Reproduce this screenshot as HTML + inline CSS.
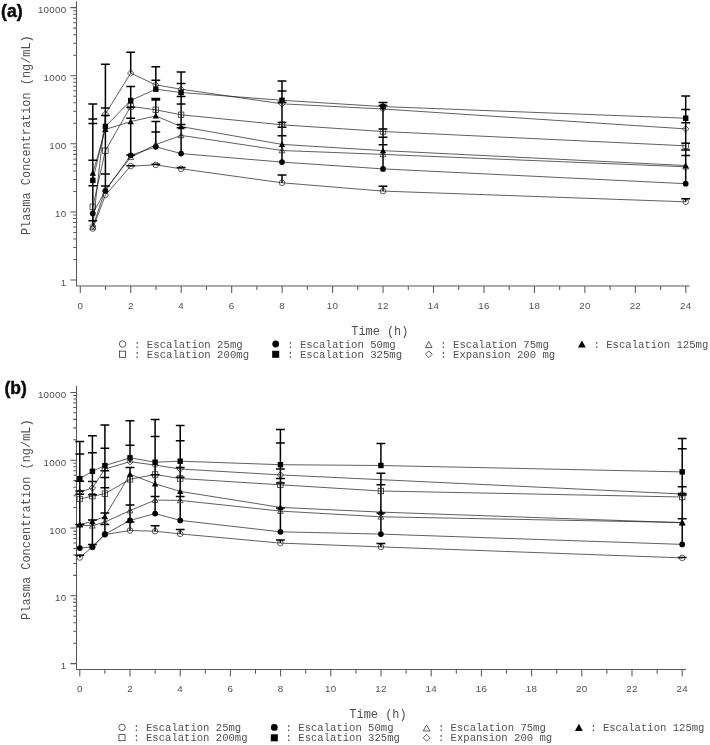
<!DOCTYPE html>
<html lang="en"><head><meta charset="utf-8"><title>Plasma concentration</title>
<style>html,body{margin:0;padding:0;background:#fff}svg{display:block}</style></head><body>
<svg width="710" height="745" viewBox="0 0 710 745">
<rect width="710" height="745" fill="#fff"/>
<g stroke="#585858" stroke-width="1.05" fill="none">
<path d="M76.5 1.2V285.9H689.7"/>
<path d="M70.3 280H76.5M73.3 259.5H76.5M73.3 247.51H76.5M73.3 239H76.5M73.3 232.4H76.5M73.3 227.01H76.5M73.3 222.45H76.5M73.3 218.5H76.5M73.3 215.02H76.5M70.3 211.9H76.5M73.3 191.4H76.5M73.3 179.41H76.5M73.3 170.9H76.5M73.3 164.3H76.5M73.3 158.91H76.5M73.3 154.35H76.5M73.3 150.4H76.5M73.3 146.92H76.5M70.3 143.8H76.5M73.3 123.3H76.5M73.3 111.31H76.5M73.3 102.8H76.5M73.3 96.2H76.5M73.3 90.81H76.5M73.3 86.25H76.5M73.3 82.3H76.5M73.3 78.82H76.5M70.3 75.7H76.5M73.3 55.2H76.5M73.3 43.21H76.5M73.3 34.7H76.5M73.3 28.1H76.5M73.3 22.71H76.5M73.3 18.15H76.5M73.3 14.2H76.5M73.3 10.72H76.5M70.3 7.6H76.5M80.3 285.9V293M105.53 285.9V290.1M130.76 285.9V293M155.99 285.9V290.1M181.22 285.9V293M206.45 285.9V290.1M231.68 285.9V293M256.91 285.9V290.1M282.14 285.9V293M307.37 285.9V290.1M332.6 285.9V293M357.83 285.9V290.1M383.06 285.9V293M408.29 285.9V290.1M433.52 285.9V293M458.75 285.9V290.1M483.98 285.9V293M509.21 285.9V290.1M534.44 285.9V293M559.67 285.9V290.1M584.9 285.9V293M610.13 285.9V290.1M635.36 285.9V293M660.59 285.9V290.1M685.82 285.9V293"/>
</g>
<g font-family='"Liberation Sans", "DejaVu Sans", sans-serif' font-size="9.75" letter-spacing="0.3" fill="#505050">
<text x="66.5" y="285.5" text-anchor="end">1</text>
<text x="66.5" y="217.4" text-anchor="end">10</text>
<text x="66.5" y="149.3" text-anchor="end">100</text>
<text x="66.5" y="81.2" text-anchor="end">1000</text>
<text x="66.5" y="13.1" text-anchor="end">10000</text>
<text x="80.3" y="308.7" text-anchor="middle">0</text>
<text x="130.76" y="308.7" text-anchor="middle">2</text>
<text x="181.22" y="308.7" text-anchor="middle">4</text>
<text x="231.68" y="308.7" text-anchor="middle">6</text>
<text x="282.14" y="308.7" text-anchor="middle">8</text>
<text x="332.6" y="308.7" text-anchor="middle">10</text>
<text x="383.06" y="308.7" text-anchor="middle">12</text>
<text x="433.52" y="308.7" text-anchor="middle">14</text>
<text x="483.98" y="308.7" text-anchor="middle">16</text>
<text x="534.44" y="308.7" text-anchor="middle">18</text>
<text x="584.9" y="308.7" text-anchor="middle">20</text>
<text x="635.36" y="308.7" text-anchor="middle">22</text>
<text x="685.82" y="308.7" text-anchor="middle">24</text>
</g>
<text font-family='"Liberation Mono", "DejaVu Sans Mono", monospace' font-size="11.9" fill="#505050" transform="translate(30.3 135.2) rotate(-90)" text-anchor="middle">Plasma Concentration (ng/mL)</text>
<text font-family='"Liberation Mono", "DejaVu Sans Mono", monospace' font-size="11.9" fill="#505050" x="379.8" y="335.2" text-anchor="middle">Time (h)</text>
<text font-family='"Liberation Sans", "DejaVu Sans", sans-serif' font-weight="bold" font-size="18.5" fill="#0a0a0a" stroke="#0a0a0a" stroke-width="0.45" x="1" y="17.3" textLength="21.6" lengthAdjust="spacingAndGlyphs">(a)</text>
<g stroke="#1a1a1a" stroke-width="0.7" fill="none" stroke-linejoin="round">
<polyline points="92.8,228.5 105.4,195 130.7,166.1 155.8,164.9 181.1,168.8 282,182.8 383,191.1 685.7,201.8"/>
<polyline points="92.8,213.4 105.4,190.8 130.7,155.3 155.8,146.8 181.1,153.6 282,162.1 383,168.9 685.7,183.7"/>
<polyline points="92.8,227 105.4,189.5 130.7,157.3 155.8,144.6 181.1,135.4 282,150.5 383,154.4 685.7,166.8"/>
<polyline points="92.8,173 105.4,129.4 130.7,121.6 155.8,115.9 181.1,126.6 282,144.4 383,150.6 685.7,165.5"/>
<polyline points="92.8,206.8 105.4,150.6 130.7,106.4 155.8,109.8 181.1,114.8 282,124.8 383,131.5 685.7,145.8"/>
<polyline points="92.8,180.4 105.4,126.5 130.7,100.5 155.8,89.2 181.1,92.5 282,100.3 383,106.6 685.7,118.2"/>
<polyline points="92.8,226 105.4,114 130.7,73.1 155.8,84.9 181.1,89.2 282,103.8 383,109 685.7,128.9"/>
</g>
<path d="M92.8 103.9V226M105.4 64.3V191M130.7 52.3V73.1M130.7 86.6V155.3M155.8 66.8V89.2M155.8 98.4V115.9M155.8 121.6V146.8M181.1 71.9V153.6M181.1 167.5V168.8M282 81V162.1M282 175V182.8M383 102.6V168.9M383 186.3V191.1M685.7 96V183.7M685.7 198.8V201.8M88.4 103.9H97.2M88.4 119H97.2M88.4 123.5H97.2M88.4 160.2H97.2M88.4 185.7H97.2M88.4 220.7H97.2M101 64.3H109.8M101 108.1H109.8M101 115.5H109.8M101 174H109.8M101 186H109.8M126.3 52.3H135.1M126.3 86.6H135.1M126.3 107.2H135.1M126.3 118.2H135.1M126.3 155H135.1M126.3 165.8H135.1M151.4 66.8H160.2M151.4 80.2H160.2M151.4 98.4H160.2M151.4 100.1H160.2M151.4 121.6H160.2M151.4 132H160.2M151.4 164.2H160.2M176.7 71.9H185.5M176.7 83.6H185.5M176.7 96.4H185.5M176.7 103.9H185.5M176.7 124.4H185.5M176.7 127.7H185.5M176.7 167.5H185.5M277.6 81H286.4M277.6 90.9H286.4M277.6 102.2H286.4M277.6 122.4H286.4M277.6 127.2H286.4M277.6 135.7H286.4M277.6 175H286.4M378.6 102.6H387.4M378.6 105.5H387.4M378.6 129.1H387.4M378.6 137.2H387.4M378.6 144.8H387.4M378.6 186.3H387.4M681.3 96H690.1M681.3 109.5H690.1M681.3 122.8H690.1M681.3 143.3H690.1M681.3 149.9H690.1M681.3 155.5H690.1M681.3 198.8H690.1" stroke="#000" stroke-width="1.5" fill="none"/>
<circle cx="92.8" cy="228.5" r="2.8" fill="#fff" fill-opacity="0" stroke="#1a1a1a" stroke-width="0.7"/>
<circle cx="105.4" cy="195" r="2.8" fill="#fff" fill-opacity="0" stroke="#1a1a1a" stroke-width="0.7"/>
<circle cx="130.7" cy="166.1" r="2.8" fill="#fff" fill-opacity="0" stroke="#1a1a1a" stroke-width="0.7"/>
<circle cx="155.8" cy="164.9" r="2.8" fill="#fff" fill-opacity="0" stroke="#1a1a1a" stroke-width="0.7"/>
<circle cx="181.1" cy="168.8" r="2.8" fill="#fff" fill-opacity="0" stroke="#1a1a1a" stroke-width="0.7"/>
<circle cx="282" cy="182.8" r="2.8" fill="#fff" fill-opacity="0" stroke="#1a1a1a" stroke-width="0.7"/>
<circle cx="383" cy="191.1" r="2.8" fill="#fff" fill-opacity="0" stroke="#1a1a1a" stroke-width="0.7"/>
<circle cx="685.7" cy="201.8" r="2.8" fill="#fff" fill-opacity="0" stroke="#1a1a1a" stroke-width="0.7"/>
<circle cx="92.8" cy="213.4" r="2.85" fill="#000"/>
<circle cx="105.4" cy="190.8" r="2.85" fill="#000"/>
<circle cx="130.7" cy="155.3" r="2.85" fill="#000"/>
<circle cx="155.8" cy="146.8" r="2.85" fill="#000"/>
<circle cx="181.1" cy="153.6" r="2.85" fill="#000"/>
<circle cx="282" cy="162.1" r="2.85" fill="#000"/>
<circle cx="383" cy="168.9" r="2.85" fill="#000"/>
<circle cx="685.7" cy="183.7" r="2.85" fill="#000"/>
<path d="M92.8 224.1L95.7 229.32L89.9 229.32Z" fill="none" stroke="#1a1a1a" stroke-width="0.7"/>
<path d="M105.4 186.6L108.3 191.82L102.5 191.82Z" fill="none" stroke="#1a1a1a" stroke-width="0.7"/>
<path d="M130.7 154.4L133.6 159.62L127.8 159.62Z" fill="none" stroke="#1a1a1a" stroke-width="0.7"/>
<path d="M155.8 141.7L158.7 146.92L152.9 146.92Z" fill="none" stroke="#1a1a1a" stroke-width="0.7"/>
<path d="M181.1 132.5L184 137.72L178.2 137.72Z" fill="none" stroke="#1a1a1a" stroke-width="0.7"/>
<path d="M282 147.6L284.9 152.82L279.1 152.82Z" fill="none" stroke="#1a1a1a" stroke-width="0.7"/>
<path d="M383 151.5L385.9 156.72L380.1 156.72Z" fill="none" stroke="#1a1a1a" stroke-width="0.7"/>
<path d="M685.7 163.9L688.6 169.12L682.8 169.12Z" fill="none" stroke="#1a1a1a" stroke-width="0.7"/>
<path d="M92.8 169.8L96 175.72L89.6 175.72Z" fill="#000"/>
<path d="M105.4 126.2L108.6 132.12L102.2 132.12Z" fill="#000"/>
<path d="M130.7 118.4L133.9 124.32L127.5 124.32Z" fill="#000"/>
<path d="M155.8 112.7L159 118.62L152.6 118.62Z" fill="#000"/>
<path d="M181.1 123.4L184.3 129.32L177.9 129.32Z" fill="#000"/>
<path d="M282 141.2L285.2 147.12L278.8 147.12Z" fill="#000"/>
<path d="M383 147.4L386.2 153.32L379.8 153.32Z" fill="#000"/>
<path d="M685.7 162.3L688.9 168.22L682.5 168.22Z" fill="#000"/>
<rect x="90.05" y="204.05" width="5.5" height="5.5" fill="none" stroke="#1a1a1a" stroke-width="0.7"/>
<rect x="102.65" y="147.85" width="5.5" height="5.5" fill="none" stroke="#1a1a1a" stroke-width="0.7"/>
<rect x="127.95" y="103.65" width="5.5" height="5.5" fill="none" stroke="#1a1a1a" stroke-width="0.7"/>
<rect x="153.05" y="107.05" width="5.5" height="5.5" fill="none" stroke="#1a1a1a" stroke-width="0.7"/>
<rect x="178.35" y="112.05" width="5.5" height="5.5" fill="none" stroke="#1a1a1a" stroke-width="0.7"/>
<rect x="279.25" y="122.05" width="5.5" height="5.5" fill="none" stroke="#1a1a1a" stroke-width="0.7"/>
<rect x="380.25" y="128.75" width="5.5" height="5.5" fill="none" stroke="#1a1a1a" stroke-width="0.7"/>
<rect x="682.95" y="143.05" width="5.5" height="5.5" fill="none" stroke="#1a1a1a" stroke-width="0.7"/>
<rect x="90.1" y="177.7" width="5.4" height="5.4" fill="#000"/>
<rect x="102.7" y="123.8" width="5.4" height="5.4" fill="#000"/>
<rect x="128" y="97.8" width="5.4" height="5.4" fill="#000"/>
<rect x="153.1" y="86.5" width="5.4" height="5.4" fill="#000"/>
<rect x="178.4" y="89.8" width="5.4" height="5.4" fill="#000"/>
<rect x="279.3" y="97.6" width="5.4" height="5.4" fill="#000"/>
<rect x="380.3" y="103.9" width="5.4" height="5.4" fill="#000"/>
<rect x="683" y="115.5" width="5.4" height="5.4" fill="#000"/>
<path d="M92.8 222.8L96 226L92.8 229.2L89.6 226Z" fill="none" stroke="#1a1a1a" stroke-width="0.7"/>
<path d="M105.4 110.8L108.6 114L105.4 117.2L102.2 114Z" fill="none" stroke="#1a1a1a" stroke-width="0.7"/>
<path d="M130.7 69.9L133.9 73.1L130.7 76.3L127.5 73.1Z" fill="none" stroke="#1a1a1a" stroke-width="0.7"/>
<path d="M155.8 81.7L159 84.9L155.8 88.1L152.6 84.9Z" fill="none" stroke="#1a1a1a" stroke-width="0.7"/>
<path d="M181.1 86L184.3 89.2L181.1 92.4L177.9 89.2Z" fill="none" stroke="#1a1a1a" stroke-width="0.7"/>
<path d="M282 100.6L285.2 103.8L282 107L278.8 103.8Z" fill="none" stroke="#1a1a1a" stroke-width="0.7"/>
<path d="M383 105.8L386.2 109L383 112.2L379.8 109Z" fill="none" stroke="#1a1a1a" stroke-width="0.7"/>
<path d="M685.7 125.7L688.9 128.9L685.7 132.1L682.5 128.9Z" fill="none" stroke="#1a1a1a" stroke-width="0.7"/>
<g font-family='"Liberation Mono", "DejaVu Sans Mono", monospace' font-size="10.65" fill="#505050">
<circle cx="122.6" cy="344" r="3.25" fill="#fff" fill-opacity="0" stroke="#1a1a1a" stroke-width="0.7"/>
<text x="134.1" y="347.8">: Escalation 25mg</text>
<circle cx="275.7" cy="344" r="3.39" fill="#000"/>
<text x="287.2" y="347.8">: Escalation 50mg</text>
<path d="M428.8 341.59L432.11 347.54L425.49 347.54Z" fill="none" stroke="#1a1a1a" stroke-width="0.7"/>
<text x="440.3" y="347.8">: Escalation 75mg</text>
<path d="M581.9 340.4L585.8 347.62L578 347.62Z" fill="#000"/>
<text x="593.4" y="347.8">: Escalation 125mg</text>
<rect x="119.55" y="351.15" width="6.11" height="6.11" fill="none" stroke="#1a1a1a" stroke-width="0.7"/>
<text x="134.1" y="357.8">: Escalation 200mg</text>
<rect x="272.19" y="350.79" width="7.02" height="7.02" fill="#000"/>
<text x="287.2" y="357.8">: Escalation 325mg</text>
<path d="M428.8 350.91L432.19 354.3L428.8 357.69L425.41 354.3Z" fill="none" stroke="#1a1a1a" stroke-width="0.7"/>
<text x="440.3" y="357.8">: Expansion 200 mg</text>
</g>
<g stroke="#585858" stroke-width="1.05" fill="none">
<path d="M76.5 386.1V669.5H686"/>
<path d="M70.3 663.6H76.5M73.3 643.19H76.5M73.3 631.25H76.5M73.3 622.78H76.5M73.3 616.21H76.5M73.3 610.84H76.5M73.3 606.3H76.5M73.3 602.37H76.5M73.3 598.9H76.5M70.3 595.8H76.5M73.3 575.39H76.5M73.3 563.45H76.5M73.3 554.98H76.5M73.3 548.41H76.5M73.3 543.04H76.5M73.3 538.5H76.5M73.3 534.57H76.5M73.3 531.1H76.5M70.3 528H76.5M73.3 507.59H76.5M73.3 495.65H76.5M73.3 487.18H76.5M73.3 480.61H76.5M73.3 475.24H76.5M73.3 470.7H76.5M73.3 466.77H76.5M73.3 463.3H76.5M70.3 460.2H76.5M73.3 439.79H76.5M73.3 427.85H76.5M73.3 419.38H76.5M73.3 412.81H76.5M73.3 407.44H76.5M73.3 402.9H76.5M73.3 398.97H76.5M73.3 395.5H76.5M70.3 392.4H76.5M79.8 669.5V676.6M104.9 669.5V673.7M130 669.5V676.6M155.1 669.5V673.7M180.2 669.5V676.6M205.3 669.5V673.7M230.4 669.5V676.6M255.5 669.5V673.7M280.6 669.5V676.6M305.7 669.5V673.7M330.8 669.5V676.6M355.9 669.5V673.7M381 669.5V676.6M406.1 669.5V673.7M431.2 669.5V676.6M456.3 669.5V673.7M481.4 669.5V676.6M506.5 669.5V673.7M531.6 669.5V676.6M556.7 669.5V673.7M581.8 669.5V676.6M606.9 669.5V673.7M632 669.5V676.6M657.1 669.5V673.7M682.2 669.5V676.6"/>
</g>
<g font-family='"Liberation Sans", "DejaVu Sans", sans-serif' font-size="9.75" letter-spacing="0.3" fill="#505050">
<text x="66.5" y="669.1" text-anchor="end">1</text>
<text x="66.5" y="601.3" text-anchor="end">10</text>
<text x="66.5" y="533.5" text-anchor="end">100</text>
<text x="66.5" y="465.7" text-anchor="end">1000</text>
<text x="66.5" y="397.9" text-anchor="end">10000</text>
<text x="79.8" y="692.4" text-anchor="middle">0</text>
<text x="130" y="692.4" text-anchor="middle">2</text>
<text x="180.2" y="692.4" text-anchor="middle">4</text>
<text x="230.4" y="692.4" text-anchor="middle">6</text>
<text x="280.6" y="692.4" text-anchor="middle">8</text>
<text x="330.8" y="692.4" text-anchor="middle">10</text>
<text x="381" y="692.4" text-anchor="middle">12</text>
<text x="431.2" y="692.4" text-anchor="middle">14</text>
<text x="481.4" y="692.4" text-anchor="middle">16</text>
<text x="531.6" y="692.4" text-anchor="middle">18</text>
<text x="581.8" y="692.4" text-anchor="middle">20</text>
<text x="632" y="692.4" text-anchor="middle">22</text>
<text x="682.2" y="692.4" text-anchor="middle">24</text>
</g>
<text font-family='"Liberation Mono", "DejaVu Sans Mono", monospace' font-size="11.95" fill="#505050" transform="translate(30.3 519.6) rotate(-90)" text-anchor="middle">Plasma Concentration (ng/mL)</text>
<text font-family='"Liberation Mono", "DejaVu Sans Mono", monospace' font-size="11.95" fill="#505050" x="378" y="717.7" text-anchor="middle">Time (h)</text>
<text font-family='"Liberation Sans", "DejaVu Sans", sans-serif' font-weight="bold" font-size="18.5" fill="#0a0a0a" stroke="#0a0a0a" stroke-width="0.45" x="4.5" y="394.3" textLength="22.4" lengthAdjust="spacingAndGlyphs">(b)</text>
<g stroke="#1a1a1a" stroke-width="0.7" fill="none" stroke-linejoin="round">
<polyline points="79.8,557.5 92.4,547 104.9,534.5 130,530.5 155.1,531.2 180.2,533.9 280.4,543.1 380.9,546.9 682.2,557.9"/>
<polyline points="79.8,548.1 92.4,546.9 104.9,534.2 130,520.4 155.1,513.6 180.2,520.4 280.4,531.8 380.9,534.1 682.2,544.4"/>
<polyline points="79.8,525 92.4,525.8 104.9,522 130,510.6 155.1,500.1 180.2,500.4 280.4,511.1 380.9,516.8 682.2,522.5"/>
<polyline points="79.8,524.4 92.4,521.5 104.9,516.5 130,474.3 155.1,483.8 180.2,491.4 280.4,507.4 380.9,512.1 682.2,522.7"/>
<polyline points="79.8,499 92.4,496.1 104.9,493.7 130,479.3 155.1,474.5 180.2,478.5 280.4,484.8 380.9,491 682.2,497"/>
<polyline points="79.8,478.6 92.4,471.3 104.9,465.6 130,457.8 155.1,462.2 180.2,461.2 280.4,464.7 380.9,465.5 682.2,471.9"/>
<polyline points="79.8,492 92.4,488 104.9,469 130,461.7 155.1,465.1 180.2,469 280.4,474.9 682.2,494"/>
</g>
<path d="M79.8 441.4V548.1M79.8 555.3V557.5M92.4 435.8V546.9M104.9 425V534.2M130 420.8V462.5M130 467.6V530.5M155.1 419.8V513.6M155.1 525.8V531.2M180.2 425.4V520.4M180.2 529.5V533.9M280.4 429.4V531.8M280.4 539.9V543.1M380.9 443.5V465.5M380.9 473.2V534.1M380.9 543.5V546.9M682.2 438.5V544.4M75.4 441.4H84.2M75.4 454.1H84.2M75.4 481.3H84.2M75.4 491H84.2M75.4 494.2H84.2M75.4 524.4H84.2M75.4 555.3H84.2M88 435.8H96.8M88 452.7H96.8M88 481.5H96.8M88 494.8H96.8M88 519.9H96.8M88 544.4H96.8M100.5 425H109.3M100.5 448.2H109.3M100.5 470.8H109.3M100.5 477.5H109.3M100.5 487.8H109.3M100.5 513.1H109.3M100.5 524.4H109.3M125.6 420.8H134.4M125.6 445.3H134.4M125.6 467.6H134.4M125.6 505H134.4M125.6 522.1H134.4M150.7 419.4H159.5M150.7 436.4H159.5M150.7 474.7H159.5M150.7 496.4H159.5M150.7 525.7H159.5M175.8 425.4H184.6M175.8 440.8H184.6M175.8 467.6H184.6M175.8 477.2H184.6M175.8 496.5H184.6M175.8 529.5H184.6M276 429.4H284.8M276 443.1H284.8M276 468.9H284.8M276 478.6H284.8M276 483H284.8M276 508H284.8M276 539.9H284.8M376.5 443.5H385.3M376.5 473.2H385.3M376.5 484.8H385.3M376.5 513H385.3M376.5 543.5H385.3M677.8 438.5H686.6M677.8 448.8H686.6M677.8 486.8H686.6M677.8 493.5H686.6M677.8 494.9H686.6M677.8 518.7H686.6M677.8 557.5H686.6" stroke="#000" stroke-width="1.5" fill="none"/>
<circle cx="79.8" cy="557.5" r="2.8" fill="#fff" fill-opacity="0" stroke="#1a1a1a" stroke-width="0.7"/>
<circle cx="92.4" cy="547" r="2.8" fill="#fff" fill-opacity="0" stroke="#1a1a1a" stroke-width="0.7"/>
<circle cx="104.9" cy="534.5" r="2.8" fill="#fff" fill-opacity="0" stroke="#1a1a1a" stroke-width="0.7"/>
<circle cx="130" cy="530.5" r="2.8" fill="#fff" fill-opacity="0" stroke="#1a1a1a" stroke-width="0.7"/>
<circle cx="155.1" cy="531.2" r="2.8" fill="#fff" fill-opacity="0" stroke="#1a1a1a" stroke-width="0.7"/>
<circle cx="180.2" cy="533.9" r="2.8" fill="#fff" fill-opacity="0" stroke="#1a1a1a" stroke-width="0.7"/>
<circle cx="280.4" cy="543.1" r="2.8" fill="#fff" fill-opacity="0" stroke="#1a1a1a" stroke-width="0.7"/>
<circle cx="380.9" cy="546.9" r="2.8" fill="#fff" fill-opacity="0" stroke="#1a1a1a" stroke-width="0.7"/>
<circle cx="682.2" cy="557.9" r="2.8" fill="#fff" fill-opacity="0" stroke="#1a1a1a" stroke-width="0.7"/>
<circle cx="79.8" cy="548.1" r="2.85" fill="#000"/>
<circle cx="92.4" cy="546.9" r="2.85" fill="#000"/>
<circle cx="104.9" cy="534.2" r="2.85" fill="#000"/>
<circle cx="130" cy="520.4" r="2.85" fill="#000"/>
<circle cx="155.1" cy="513.6" r="2.85" fill="#000"/>
<circle cx="180.2" cy="520.4" r="2.85" fill="#000"/>
<circle cx="280.4" cy="531.8" r="2.85" fill="#000"/>
<circle cx="380.9" cy="534.1" r="2.85" fill="#000"/>
<circle cx="682.2" cy="544.4" r="2.85" fill="#000"/>
<path d="M79.8 522.1L82.7 527.32L76.9 527.32Z" fill="none" stroke="#1a1a1a" stroke-width="0.7"/>
<path d="M92.4 522.9L95.3 528.12L89.5 528.12Z" fill="none" stroke="#1a1a1a" stroke-width="0.7"/>
<path d="M104.9 519.1L107.8 524.32L102 524.32Z" fill="none" stroke="#1a1a1a" stroke-width="0.7"/>
<path d="M130 507.7L132.9 512.92L127.1 512.92Z" fill="none" stroke="#1a1a1a" stroke-width="0.7"/>
<path d="M155.1 497.2L158 502.42L152.2 502.42Z" fill="none" stroke="#1a1a1a" stroke-width="0.7"/>
<path d="M180.2 497.5L183.1 502.72L177.3 502.72Z" fill="none" stroke="#1a1a1a" stroke-width="0.7"/>
<path d="M280.4 508.2L283.3 513.42L277.5 513.42Z" fill="none" stroke="#1a1a1a" stroke-width="0.7"/>
<path d="M380.9 513.9L383.8 519.12L378 519.12Z" fill="none" stroke="#1a1a1a" stroke-width="0.7"/>
<path d="M682.2 519.6L685.1 524.82L679.3 524.82Z" fill="none" stroke="#1a1a1a" stroke-width="0.7"/>
<path d="M79.8 521.2L83 527.12L76.6 527.12Z" fill="#000"/>
<path d="M92.4 518.3L95.6 524.22L89.2 524.22Z" fill="#000"/>
<path d="M104.9 513.3L108.1 519.22L101.7 519.22Z" fill="#000"/>
<path d="M130 471.1L133.2 477.02L126.8 477.02Z" fill="#000"/>
<path d="M155.1 480.6L158.3 486.52L151.9 486.52Z" fill="#000"/>
<path d="M180.2 488.2L183.4 494.12L177 494.12Z" fill="#000"/>
<path d="M280.4 504.2L283.6 510.12L277.2 510.12Z" fill="#000"/>
<path d="M380.9 508.9L384.1 514.82L377.7 514.82Z" fill="#000"/>
<path d="M682.2 519.5L685.4 525.42L679 525.42Z" fill="#000"/>
<rect x="77.05" y="496.25" width="5.5" height="5.5" fill="none" stroke="#1a1a1a" stroke-width="0.7"/>
<rect x="89.65" y="493.35" width="5.5" height="5.5" fill="none" stroke="#1a1a1a" stroke-width="0.7"/>
<rect x="102.15" y="490.95" width="5.5" height="5.5" fill="none" stroke="#1a1a1a" stroke-width="0.7"/>
<rect x="127.25" y="476.55" width="5.5" height="5.5" fill="none" stroke="#1a1a1a" stroke-width="0.7"/>
<rect x="152.35" y="471.75" width="5.5" height="5.5" fill="none" stroke="#1a1a1a" stroke-width="0.7"/>
<rect x="177.45" y="475.75" width="5.5" height="5.5" fill="none" stroke="#1a1a1a" stroke-width="0.7"/>
<rect x="277.65" y="482.05" width="5.5" height="5.5" fill="none" stroke="#1a1a1a" stroke-width="0.7"/>
<rect x="378.15" y="488.25" width="5.5" height="5.5" fill="none" stroke="#1a1a1a" stroke-width="0.7"/>
<rect x="679.45" y="494.25" width="5.5" height="5.5" fill="none" stroke="#1a1a1a" stroke-width="0.7"/>
<rect x="77.1" y="475.9" width="5.4" height="5.4" fill="#000"/>
<rect x="89.7" y="468.6" width="5.4" height="5.4" fill="#000"/>
<rect x="102.2" y="462.9" width="5.4" height="5.4" fill="#000"/>
<rect x="127.3" y="455.1" width="5.4" height="5.4" fill="#000"/>
<rect x="152.4" y="459.5" width="5.4" height="5.4" fill="#000"/>
<rect x="177.5" y="458.5" width="5.4" height="5.4" fill="#000"/>
<rect x="277.7" y="462" width="5.4" height="5.4" fill="#000"/>
<rect x="378.2" y="462.8" width="5.4" height="5.4" fill="#000"/>
<rect x="679.5" y="469.2" width="5.4" height="5.4" fill="#000"/>
<path d="M79.8 488.8L83 492L79.8 495.2L76.6 492Z" fill="none" stroke="#1a1a1a" stroke-width="0.7"/>
<path d="M92.4 484.8L95.6 488L92.4 491.2L89.2 488Z" fill="none" stroke="#1a1a1a" stroke-width="0.7"/>
<path d="M104.9 465.8L108.1 469L104.9 472.2L101.7 469Z" fill="none" stroke="#1a1a1a" stroke-width="0.7"/>
<path d="M130 458.5L133.2 461.7L130 464.9L126.8 461.7Z" fill="none" stroke="#1a1a1a" stroke-width="0.7"/>
<path d="M155.1 461.9L158.3 465.1L155.1 468.3L151.9 465.1Z" fill="none" stroke="#1a1a1a" stroke-width="0.7"/>
<path d="M180.2 465.8L183.4 469L180.2 472.2L177 469Z" fill="none" stroke="#1a1a1a" stroke-width="0.7"/>
<path d="M280.4 471.7L283.6 474.9L280.4 478.1L277.2 474.9Z" fill="none" stroke="#1a1a1a" stroke-width="0.7"/>
<path d="M682.2 490.8L685.4 494L682.2 497.2L679 494Z" fill="none" stroke="#1a1a1a" stroke-width="0.7"/>
<g font-family='"Liberation Mono", "DejaVu Sans Mono", monospace' font-size="10.58" fill="#505050">
<circle cx="122" cy="727.4" r="3.25" fill="#fff" fill-opacity="0" stroke="#1a1a1a" stroke-width="0.7"/>
<text x="133.3" y="731.2">: Escalation 25mg</text>
<circle cx="274.3" cy="727.4" r="3.39" fill="#000"/>
<text x="285.6" y="731.2">: Escalation 50mg</text>
<path d="M426.6 724.99L429.91 730.94L423.29 730.94Z" fill="none" stroke="#1a1a1a" stroke-width="0.7"/>
<text x="437.9" y="731.2">: Escalation 75mg</text>
<path d="M578.9 723.8L582.8 731.02L575 731.02Z" fill="#000"/>
<text x="590.2" y="731.2">: Escalation 125mg</text>
<rect x="118.95" y="734.65" width="6.11" height="6.11" fill="none" stroke="#1a1a1a" stroke-width="0.7"/>
<text x="133.3" y="741.3">: Escalation 200mg</text>
<rect x="270.79" y="734.29" width="7.02" height="7.02" fill="#000"/>
<text x="285.6" y="741.3">: Escalation 325mg</text>
<path d="M426.6 734.41L429.99 737.8L426.6 741.19L423.21 737.8Z" fill="none" stroke="#1a1a1a" stroke-width="0.7"/>
<text x="437.9" y="741.3">: Expansion 200 mg</text>
</g>
</svg></body></html>
